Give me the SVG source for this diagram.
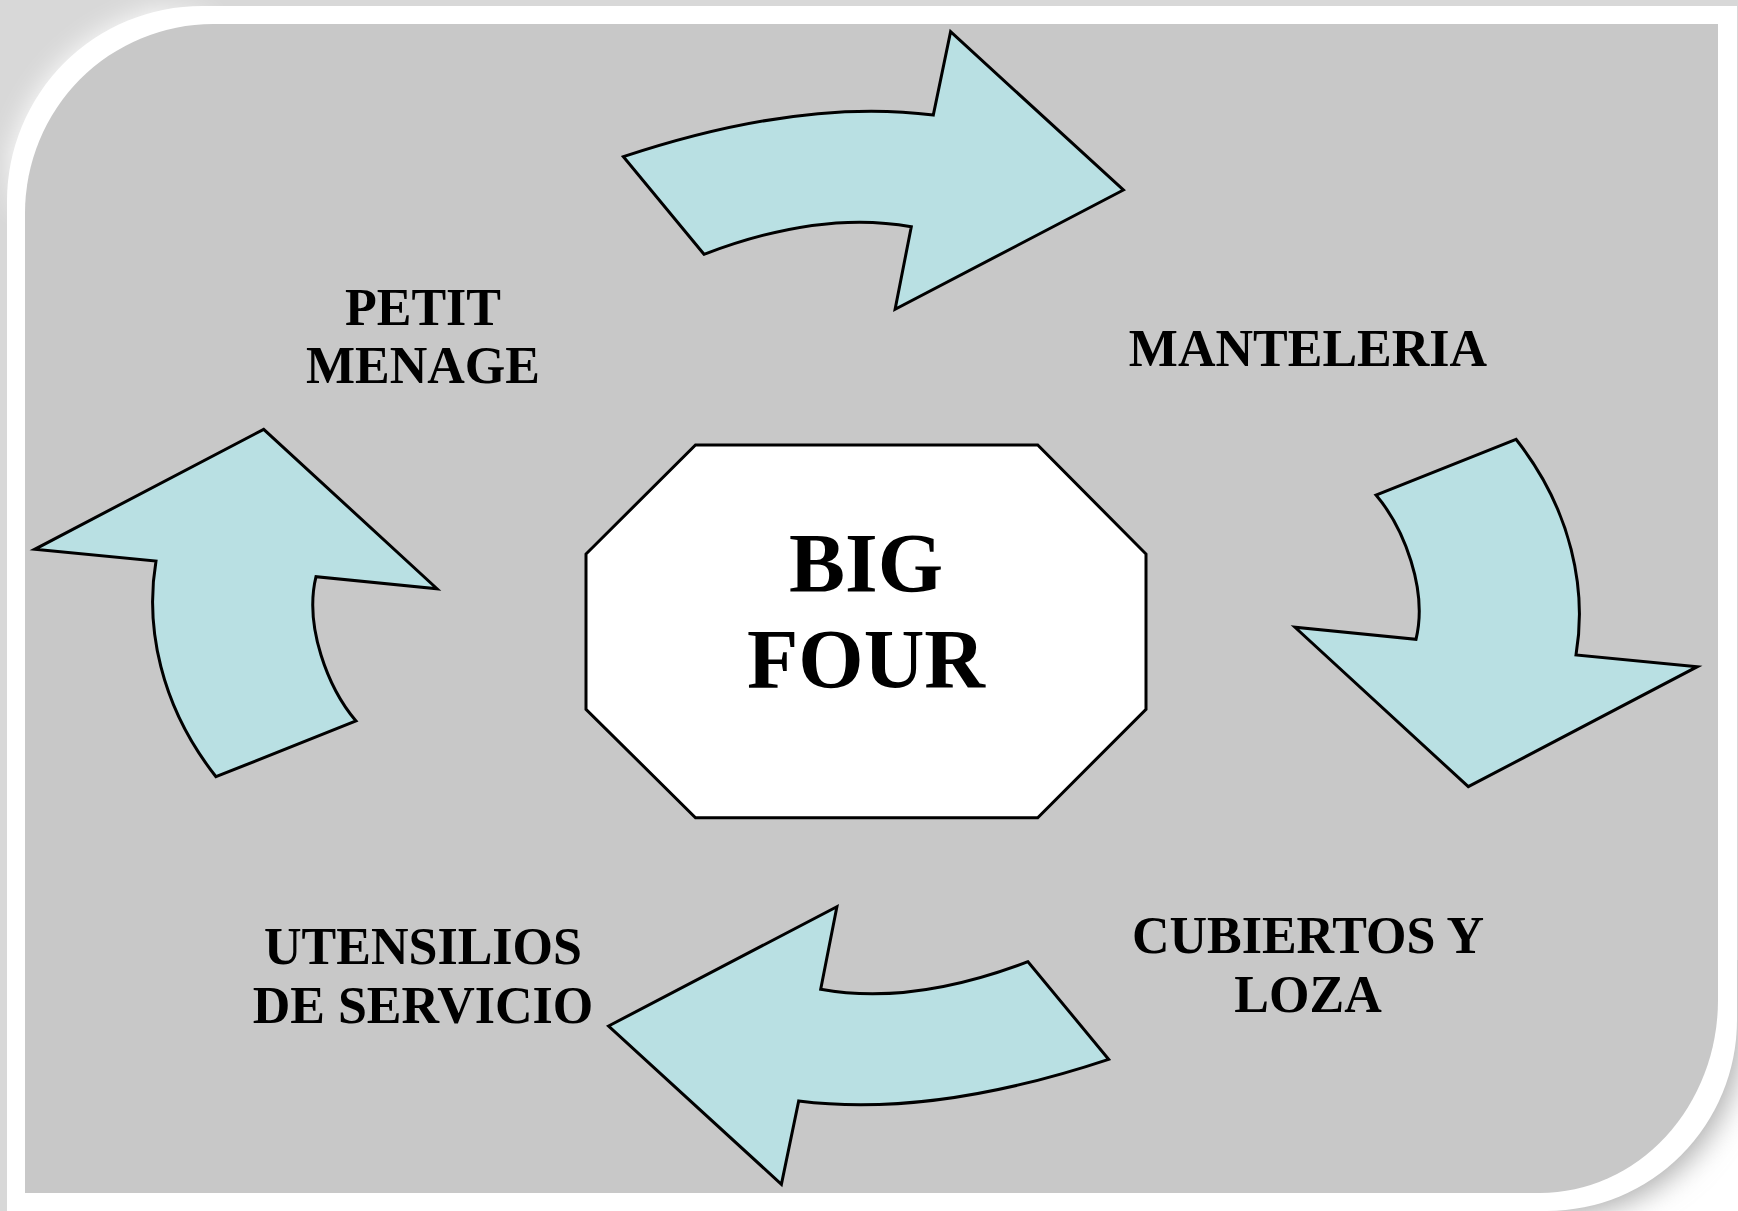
<svg xmlns="http://www.w3.org/2000/svg" width="1738" height="1211" viewBox="0 0 1738 1211">
<style>
.arrow{fill:#b9e0e3;stroke:#000;stroke-width:3;stroke-linejoin:miter}
.lbl{font-family:"Liberation Serif","Times New Roman",serif;font-weight:bold;font-size:52px;fill:#000;text-anchor:middle}
.big{font-family:"Liberation Serif","Times New Roman",serif;font-weight:bold;font-size:84px;fill:#000;text-anchor:middle}
</style>
<defs>
<filter id="soft" x="-5%" y="-5%" width="110%" height="110%"><feGaussianBlur stdDeviation="14"/></filter>
<radialGradient id="fadeTL" gradientUnits="userSpaceOnUse" cx="70" cy="70" r="170">
<stop offset="0" stop-color="#fff"/><stop offset="0.6" stop-color="#fff"/><stop offset="1" stop-color="#000"/>
</radialGradient>
<mask id="tlmask"><rect x="0" y="0" width="300" height="300" fill="url(#fadeTL)"/></mask>
<clipPath id="br"><rect x="1480" y="960" width="258" height="251"/></clipPath>
<path id="outer" d="M7,201 A195,195 0 0 1 202,6 L1737,6 L1737,1020 A190,191 0 0 1 1547,1211 L7,1211 Z"/>
</defs>
<g id="frame">
<rect x="0" y="0" width="1738" height="1211" fill="#d8d8d8"/>
<rect x="1480" y="960" width="258" height="251" fill="#ffffff"/>
<g mask="url(#tlmask)"><use href="#outer" fill="#ffffff" filter="url(#soft)"/></g>
<g clip-path="url(#br)"><use href="#outer" fill="#b0b0b0" filter="url(#soft)" transform="translate(6,6)"/></g>
<use href="#outer" fill="#ffffff"/>
<path d="M25,213 A188,189 0 0 1 213,24 L1718,24 L1718,1000 A178,193 0 0 1 1540,1193 L25,1193 Z" fill="#c8c8c8"/>
</g>
<g id="connectors">
<path id="arrow-top" class="arrow" d="M623.4,156.7 Q800,98 933.3,115 L950.6,31.7 L1123.4,190 L895.1,309.3 L911.3,226.7 Q820,210 704,254.3 Z"/>
<path id="arrow-right" class="arrow" d="M1516,439.3 L1376,495 C1404,528 1428,590 1416,639.3 L1295,627.3 L1468.3,786.7 L1697.3,666.7 L1576,655 C1587,590 1572,510 1516,439.3 Z"/>
<path id="arrow-bottom" class="arrow" d="M1108.6,1059.3 Q932,1118 798.7,1101 L781.4,1184.3 L608.6,1026 L836.9,906.7 L820.7,989.3 Q912,1006 1028,961.7 Z"/>
<path id="arrow-left" class="arrow" d="M216,776.7 L356,721 C328,688 304,626 316,576.7 L437,588.7 L263.7,429.3 L34.7,549.3 L156,561 C145,626 160,706 216,776.7 Z"/>
</g>
<g id="node-center">
<polygon points="695.5,445 1037.7,445 1146,554 1146,709.3 1037.7,817.7 695.5,817.7 586,709.3 586,554" fill="#ffffff" stroke="#000" stroke-width="3"/>
<text class="big" x="866" y="592">BIG</text>
<text class="big" x="866" y="688">FOUR</text>
</g>
<g id="node-petit-menage">
<text class="lbl" x="423" y="325">PETIT</text>
<text class="lbl" x="423" y="383">MENAGE</text>
</g>
<g id="node-manteleria">
<text class="lbl" x="1308" y="366">MANTELERIA</text>
</g>
<g id="node-cubiertos">
<text class="lbl" x="1308" y="953">CUBIERTOS Y</text>
<text class="lbl" x="1308" y="1012">LOZA</text>
</g>
<g id="node-utensilios">
<text class="lbl" x="423" y="964">UTENSILIOS</text>
<text class="lbl" x="423" y="1023">DE SERVICIO</text>
</g>
</svg>
